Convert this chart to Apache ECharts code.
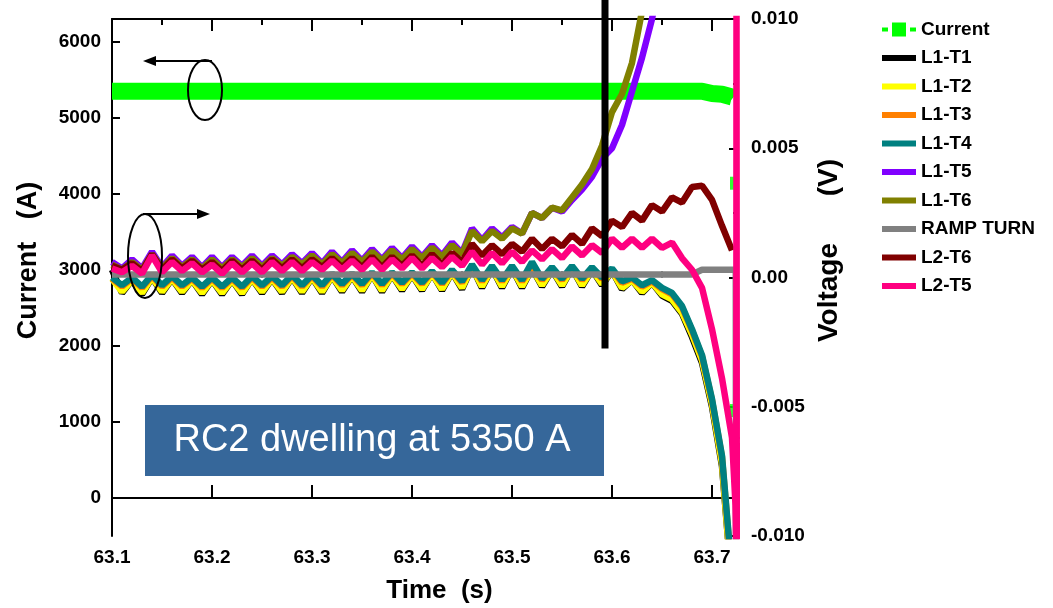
<!DOCTYPE html>
<html>
<head>
<meta charset="utf-8">
<script src="https://cdn.jsdelivr.net/npm/echarts@6.0.0/dist/echarts.min.js"></script>
<style>
html,body{margin:0;padding:0;background:#fff;}
#main{width:1053px;height:608px;}
</style>
</head>
<body>
<div id="main"></div>
<script>
// time grid (s), one sample every 0.01 s
var TIME = [63.10,63.11,63.12,63.13,63.14,63.15,63.16,63.17,63.18,63.19,
  63.20,63.21,63.22,63.23,63.24,63.25,63.26,63.27,63.28,63.29,
  63.30,63.31,63.32,63.33,63.34,63.35,63.36,63.37,63.38,63.39,
  63.40,63.41,63.42,63.43,63.44,63.45,63.46,63.47,63.48,63.49,
  63.50,63.51,63.52,63.53,63.54,63.55,63.56,63.57,63.58,63.59,
  63.60,63.61,63.62,63.63,63.64,63.65,63.66,63.67,63.68,63.69,
  63.70,63.71,63.72];

// voltages in mV
var L1_T1 = [0.3,-0.6,-0.1,-0.65,0.0,-0.6,-0.05,-0.6,-0.1,-0.65,-0.1,-0.65,-0.1,-0.65,-0.05,-0.6,-0.05,-0.6,0.0,-0.6,
  0.0,-0.6,0.05,-0.55,0.05,-0.55,0.1,-0.55,0.1,-0.5,0.1,-0.5,0.15,-0.5,0.2,-0.45,0.4,-0.4,0.35,-0.4,
  0.35,-0.4,0.35,-0.35,0.3,-0.35,0.35,-0.35,0.3,-0.3,0.25,-0.45,-0.1,-0.6,-0.2,-0.7,-0.9,-1.4,-2.3,-3.3,
  -5.0,-7.3,-12];
var L1_T2 = [-0.05,-0.55,-0.1,-0.6,0.0,-0.55,-0.05,-0.55,-0.1,-0.6,-0.1,-0.6,-0.1,-0.6,-0.05,-0.55,-0.05,-0.55,0.0,-0.55,
  0.0,-0.55,0.05,-0.5,0.05,-0.5,0.1,-0.5,0.1,-0.45,0.1,-0.45,0.15,-0.45,0.2,-0.4,0.4,-0.35,0.35,-0.35,
  0.35,-0.35,0.35,-0.3,0.3,-0.3,0.35,-0.3,0.3,-0.25,0.25,-0.4,-0.1,-0.55,-0.2,-0.65,-0.85,-1.35,-2.2,-3.2,
  -4.9,-7.2,-12];
var L1_T3 = [-0.05,-0.35,-0.05,-0.4,0.05,-0.35,0.0,-0.35,-0.05,-0.4,-0.05,-0.4,-0.05,-0.4,0.0,-0.35,0.0,-0.35,0.05,-0.35,
  0.05,-0.35,0.1,-0.3,0.1,-0.3,0.15,-0.3,0.15,-0.25,0.15,-0.25,0.2,-0.25,0.25,-0.2,0.45,-0.15,0.4,-0.15,
  0.4,-0.15,0.4,-0.1,0.35,-0.1,0.4,-0.1,0.35,-0.05,0.3,-0.2,-0.05,-0.35,-0.15,-0.45,-0.65,-1.15,-2.05,-3.05,
  -4.75,-6.95,-11.6];
var L1_T4 = [0.0,-0.3,0.0,-0.35,0.1,-0.3,0.05,-0.3,0.0,-0.35,0.0,-0.35,0.0,-0.35,0.05,-0.3,0.05,-0.3,0.1,-0.3,
  0.1,-0.3,0.15,-0.25,0.15,-0.25,0.2,-0.25,0.2,-0.2,0.2,-0.2,0.25,-0.2,0.3,-0.15,0.5,-0.1,0.45,-0.1,
  0.45,-0.1,0.6,-0.05,0.4,-0.05,0.45,-0.05,0.4,0.0,0.35,-0.15,0.0,-0.3,-0.1,-0.4,-0.6,-1.1,-2.0,-3.0,
  -4.7,-6.9,-11.5];
var L1_T5 = [0.6,0.35,0.7,0.35,1.0,0.4,0.85,0.45,0.8,0.4,0.8,0.4,0.8,0.45,0.85,0.45,0.85,0.5,0.9,0.55,
  0.95,0.55,1.0,0.6,1.05,0.65,1.1,0.7,1.15,0.75,1.2,0.8,1.25,0.85,1.35,0.95,1.9,1.45,1.9,1.55,
  1.95,1.7,2.5,2.3,2.7,2.55,3.0,3.4,3.9,4.6,5.0,5.9,7.2,8.5,10.0,12,null,null,null,null,
  null,null,null];
var L1_T6 = [0.5,0.3,0.6,0.3,0.9,0.35,0.75,0.4,0.7,0.35,0.7,0.35,0.7,0.4,0.75,0.4,0.75,0.45,0.8,0.5,
  0.85,0.5,0.9,0.55,0.95,0.6,1.0,0.65,1.05,0.7,1.1,0.75,1.15,0.8,1.25,0.9,1.8,1.4,1.8,1.5,
  1.9,1.7,2.5,2.3,2.7,2.6,3.1,3.6,4.2,5.1,6.4,7.1,8.3,10.3,12,null,null,null,null,null,
  null,null,null];
var RAMP_TURN = [0.12,0.12,0.12,0.12,0.12,0.12,0.12,0.12,0.12,0.12,0.12,0.12,0.12,0.12,0.12,0.12,0.12,0.12,0.12,0.12,
  0.12,0.12,0.12,0.12,0.12,0.12,0.12,0.12,0.12,0.12,0.12,0.12,0.12,0.12,0.12,0.12,0.12,0.12,0.12,0.12,
  0.12,0.12,0.12,0.12,0.12,0.12,0.12,0.12,0.12,0.12,0.12,0.12,0.12,0.12,0.12,0.12,0.12,0.12,0.12,0.3,
  0.3,0.3,0.3];
var L2_T6 = [0.45,0.3,0.55,0.25,0.9,0.3,0.7,0.35,0.65,0.3,0.6,0.25,0.65,0.3,0.65,0.3,0.7,0.35,0.7,0.35,
  0.7,0.4,0.75,0.4,0.75,0.4,0.8,0.4,0.8,0.45,0.85,0.45,0.9,0.5,0.95,0.6,1.3,0.85,1.25,0.9,
  1.3,1.0,1.5,1.1,1.5,1.2,1.65,1.3,1.9,1.6,2.2,1.95,2.5,2.2,2.8,2.55,3.1,2.9,3.5,3.55,
  3.0,2.0,1.05];
var L2_T5 = [0.35,0.2,0.45,0.15,0.85,0.2,0.6,0.25,0.55,0.2,0.5,0.15,0.55,0.2,0.55,0.2,0.6,0.25,0.6,0.25,
  0.6,0.3,0.65,0.3,0.65,0.3,0.7,0.3,0.7,0.35,0.75,0.35,0.75,0.4,0.8,0.45,1.0,0.5,0.95,0.55,
  1.0,0.6,1.05,0.7,1.1,0.75,1.2,0.85,1.25,0.95,1.5,1.15,1.5,1.15,1.5,1.15,1.35,0.75,0.3,-0.4,
  -2.0,-3.9,-6.2];

// last few samples at the quench
var TAIL_TIME = [63.7235, 63.7243, 63.7245, 63.7248];
var L2_T5_TAIL = [-8.8, -10.5, 11, -11];
var RAMP_TAIL_TIME = [63.7238, 63.724];
var RAMP_TAIL = [0.3, -11];

// current (A)
var CUR_TIME = [63.10, 63.69, 63.70, 63.71, 63.72, 63.721];
var CURRENT = [5350, 5350, 5320, 5310, 5275, 5265];
var CUR_DROP_TIME = [63.7205, 63.7205];
var CUR_DROP = [4140, 1150];

var X_LABELS = [63.1, 63.2, 63.3, 63.4, 63.5, 63.6, 63.7];
var X_MINOR = [63.15, 63.25, 63.35, 63.45, 63.55, 63.65];
var Y_LEFT = [0, 1000, 2000, 3000, 4000, 5000, 6000];

var FONT = 'Liberation Sans';
var LINE_ICON = 'path://M0,0h34v6h-34z';
var CUR_ICON = 'path://M0,5h6v4h-6z M10,0h14v14h-14z M28,5h6v4h-6z';
var chart = echarts.init(document.getElementById('main'), null, {renderer: 'canvas'});

function pairs(t, v, scale) {
  var out = [];
  for (var i = 0; i < t.length; i++) out.push([t[i], v[i] == null ? null : v[i] / scale]);
  return out;
}
function volt(name, color, arr, tailT, tailV) {
  var d = pairs(TIME, arr, 1000);
  if (tailT) d = d.concat(pairs(tailT, tailV, 1000));
  return {
    name: name, type: 'line', xAxisIndex: 0, yAxisIndex: 1,
    symbol: 'none', data: d, color: color,
    lineStyle: {width: 6.5, color: color},
    emphasis: {disabled: true}
  };
}

var tickFont = {fontFamily: FONT, fontSize: 19, fontWeight: 'bold', color: '#000'};
var nameFont = {fontFamily: FONT, fontSize: 27, fontWeight: 'bold', color: '#000'};
var axLine = {show: true, lineStyle: {color: '#000', width: 2}};

function xAx(pos, custom, len, showLine, showLabel, extra) {
  var a = {
    type: 'value', position: pos, min: 63.1, max: 63.725,
    axisLine: showLine ? axLine : {show: false},
    axisTick: {show: true, inside: true, length: len, customValues: custom, lineStyle: {color: '#000', width: 2}},
    axisLabel: showLabel ? Object.assign({customValues: custom, margin: 12, formatter: function (v) { return v.toFixed(1); }}, tickFont) : {show: false},
    splitLine: {show: false}
  };
  return Object.assign(a, extra || {});
}

var legendNames = ['L1-T1', 'L1-T2', 'L1-T3', 'L1-T4', 'L1-T5', 'L1-T6', 'RAMP TURN', 'L2-T6', 'L2-T5'];
var legendData = [{name: 'Current', icon: CUR_ICON}];
legendNames.forEach(function (n) { legendData.push({name: n, icon: LINE_ICON}); });

var option = {
  animation: false,
  backgroundColor: '#fff',
  grid: {left: 112, right: 316, top: 19, bottom: 72, outerBoundsMode: 'none'},
  legend: {
    orient: 'vertical', left: 877, top: 15,
    itemWidth: 34, itemHeight: 14, itemGap: 9.5,
    textStyle: {fontFamily: FONT, fontSize: 19, fontWeight: 'bold', color: '#000'},
    data: legendData
  },
  xAxis: [
    xAx('bottom', X_LABELS, 13, true, true, {
      name: 'Time  (s)', nameLocation: 'middle', nameGap: 42,
      nameTextStyle: Object.assign({}, nameFont, {fontSize: 26, padding: [0, 0, 0, 30]})
    }),
    xAx('bottom', X_MINOR, 6, false, false),
    xAx('top', X_LABELS, 12, true, false),
    xAx('top', X_MINOR, 6, false, false)
  ],
  yAxis: [
    {
      type: 'value', position: 'left', min: -500, max: 6300,
      axisLine: axLine,
      axisTick: {show: true, inside: true, length: 8, customValues: Y_LEFT, lineStyle: {color: '#000', width: 2}},
      axisLabel: Object.assign({customValues: Y_LEFT, margin: 11, formatter: function (v) { return String(v); }}, tickFont),
      splitLine: {show: false},
      name: 'Current   (A)', nameLocation: 'middle', nameGap: 70, nameRotate: 90,
      nameTextStyle: Object.assign({}, nameFont, {padding: [0, 0, 0, 34]})
    },
    {
      type: 'value', position: 'right', min: -0.01, max: 0.01, interval: 0.005,
      axisLine: axLine,
      axisTick: {show: true, inside: true, length: 8, lineStyle: {color: '#000', width: 2}},
      minorTick: {show: true, splitNumber: 2, length: 4, lineStyle: {color: '#000', width: 2}},
      axisLabel: Object.assign({margin: 14, formatter: function (v) {
        if (Math.abs(v) < 1e-9) return '0.00';
        return v.toFixed(3);
      }}, tickFont),
      splitLine: {show: false},
      name: 'Voltage      (V)', nameLocation: 'middle', nameGap: 76, nameRotate: 90,
      nameTextStyle: Object.assign({}, nameFont, {fontSize: 28, padding: [0, 0, 0, 54]})
    }
  ],
  series: [
    {
      name: 'Current', type: 'line', xAxisIndex: 0, yAxisIndex: 0,
      symbol: 'rect', symbolSize: 12, showSymbol: false,
      data: pairs(CUR_TIME, CURRENT, 1), color: '#00ff00',
      lineStyle: {width: 17, color: '#00ff00'},
      emphasis: {disabled: true}
    },
    {
      name: 'Current', type: 'scatter', xAxisIndex: 0, yAxisIndex: 0,
      symbol: 'rect', symbolSize: [5, 13],
      data: pairs(CUR_DROP_TIME, CUR_DROP, 1),
      itemStyle: {color: '#00ff00'}, emphasis: {disabled: true}
    },
    volt('L1-T1', '#000000', L1_T1),
    volt('L1-T2', '#ffff00', L1_T2),
    volt('L1-T3', '#ff8000', L1_T3),
    volt('L1-T4', '#008080', L1_T4),
    volt('L1-T5', '#8000ff', L1_T5),
    volt('L1-T6', '#808000', L1_T6),
    volt('RAMP TURN', '#808080', RAMP_TURN, RAMP_TAIL_TIME, RAMP_TAIL),
    volt('L2-T6', '#800000', L2_T6),
    volt('L2-T5', '#ff0080', L2_T5, TAIL_TIME, L2_T5_TAIL)
  ]
};
chart.setOption(option);

// annotations: quench marker line, label box, axis pointers
var qx = chart.convertToPixel({xAxisIndex: 0}, 63.593);
var qy = chart.convertToPixel({yAxisIndex: 1}, -0.00275);
function arrow(x1, x2, y) {
  var dir = x2 > x1 ? 1 : -1;
  return [
    {type: 'line', shape: {x1: x1, y1: y, x2: x2 - dir * 8, y2: y}, style: {stroke: '#000', lineWidth: 2}},
    {type: 'polygon', shape: {points: [[x2, y], [x2 - dir * 13, y - 5], [x2 - dir * 13, y + 5]]}, style: {fill: '#000'}}
  ];
}
chart.setOption({
  graphic: [
    {type: 'line', shape: {x1: qx, y1: 0, x2: qx, y2: qy}, style: {stroke: '#000', lineWidth: 7}, z: 100},
    {type: 'rect', shape: {x: 145, y: 405, width: 459, height: 71}, style: {fill: '#36679a'}, z: 100},
    {type: 'text', x: 372, y: 441, style: {text: 'RC2 dwelling at 5350 A', fill: '#fff', fontFamily: FONT, fontSize: 38, align: 'center', verticalAlign: 'middle'}, z: 101},
    {type: 'ellipse', shape: {cx: 205, cy: 90, rx: 17, ry: 30}, style: {fill: 'none', stroke: '#000', lineWidth: 2}, z: 100},
    {type: 'ellipse', shape: {cx: 145, cy: 256, rx: 17, ry: 42}, style: {fill: 'none', stroke: '#000', lineWidth: 2}, z: 100}
  ].concat(arrow(212, 143, 61), arrow(143, 210, 214))
});
</script>
</body>
</html>
